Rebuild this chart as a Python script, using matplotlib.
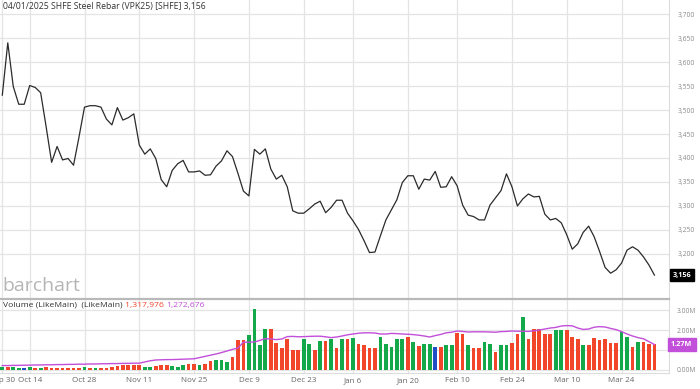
import matplotlib
matplotlib.use("Agg")
import matplotlib.pyplot as plt
import matplotlib.transforms as mtransforms
import numpy as np

plt.rcParams['font.family'] = ['Open Sans', 'DejaVu Sans']

# ---------------- data ----------------
price = [3531, 3640, 3549, 3512, 3512, 3551, 3547, 3536, 3465, 3391,
         3424, 3396, 3399, 3385, 3444, 3506, 3509, 3509, 3506, 3481,
         3469, 3505, 3479, 3484, 3492, 3427, 3408, 3419, 3399, 3355,
         3340, 3374, 3388, 3395, 3371, 3371, 3373, 3364, 3365, 3383,
         3394, 3415, 3403, 3368, 3331, 3321, 3418, 3408, 3419, 3377,
         3356, 3364, 3340, 3290, 3285, 3285, 3294, 3304, 3310, 3286,
         3297, 3312, 3312, 3285, 3269, 3251, 3228, 3203, 3204, 3238,
         3271, 3292, 3313, 3349, 3363, 3363, 3335, 3356, 3354, 3372,
         3339, 3340, 3361, 3342, 3302, 3281, 3278, 3271, 3271, 3302,
         3317, 3332, 3367, 3340, 3300, 3315, 3325, 3319, 3320, 3283,
         3271, 3274, 3265, 3240, 3210, 3221, 3245, 3258, 3236, 3205,
         3172, 3160, 3167, 3181, 3208, 3215, 3208, 3194, 3177, 3156]

volume_m = [0.17, 0.17, 0.17, 0.10, 0.08, 0.13, 0.10, 0.10, 0.13, 0.12,
            0.10, 0.10, 0.10, 0.10, 0.10, 0.13, 0.10, 0.10, 0.10, 0.12,
            0.15, 0.20, 0.24, 0.25, 0.25, 0.25, 0.15, 0.17, 0.20, 0.25,
            0.25, 0.22, 0.17, 0.27, 0.29, 0.30, 0.25, 0.32, 0.44, 0.50,
            0.50, 0.40, 0.67, 1.52, 1.52, 1.73, 3.05, 1.23, 2.03, 2.03,
            1.35, 1.10, 1.56, 1.02, 1.02, 1.57, 1.30, 1.02, 1.47, 1.47,
            1.57, 1.10, 1.56, 1.56, 1.61, 1.32, 1.27, 1.10, 1.10, 1.64,
            1.32, 1.15, 1.57, 1.57, 1.67, 1.40, 1.22, 1.32, 1.32, 1.15,
            1.17, 1.25, 1.25, 1.86, 1.81, 1.27, 1.12, 1.12, 1.39, 1.32,
            0.91, 1.24, 1.24, 1.37, 1.78, 2.67, 1.57, 2.03, 2.03, 1.81,
            1.81, 1.98, 1.99, 1.99, 1.64, 1.57, 1.27, 1.27, 1.61, 1.49,
            1.57, 1.35, 1.35, 1.89, 1.67, 1.15, 1.40, 1.40, 1.30, 1.318]

# g = up (green), r = down (red), b = unchanged (blue)
bar_dir = list("grggbgrgrr" "rrrrrgrgrr" "rrrrrrggrr" "rgggrrgrrg"
               "ggrrrggggr" "rrrrrggrgr" "grgrgrrrrg" "ggggrgrggb"
               "rggrrgrrgg" "rggrrgrrrr" "rggrrrgrrr" "rrrggrgrrr")

ma_m = [0.22, 0.22, 0.23, 0.23, 0.24, 0.24, 0.25, 0.25, 0.26, 0.26,
        0.27, 0.27, 0.28, 0.28, 0.29, 0.29, 0.30, 0.30, 0.31, 0.31,
        0.32, 0.32, 0.33, 0.33, 0.34, 0.34, 0.40, 0.46, 0.50, 0.51,
        0.52, 0.52, 0.53, 0.54, 0.55, 0.56, 0.62, 0.68, 0.74, 0.80,
        0.87, 0.95, 1.03, 1.10, 1.39, 1.39, 1.40, 1.48, 1.57, 1.55,
        1.52, 1.55, 1.67, 1.68, 1.66, 1.67, 1.68, 1.69, 1.69, 1.66,
        1.62, 1.65, 1.70, 1.76, 1.80, 1.84, 1.86, 1.86, 1.85, 1.80,
        1.80, 1.83, 1.82, 1.80, 1.79, 1.77, 1.74, 1.70, 1.65, 1.72,
        1.78, 1.86, 1.89, 1.95, 1.93, 1.90, 1.91, 1.91, 1.91, 1.90,
        1.89, 1.92, 1.93, 1.95, 1.94, 1.94, 1.93, 1.96, 2.00, 2.05,
        2.10, 2.13, 2.20, 2.22, 2.21, 2.10, 2.03, 2.05, 2.14, 2.17,
        2.15, 2.08, 2.02, 1.92, 1.80, 1.70, 1.62, 1.56, 1.42, 1.273]

tick_idx = [0, 5, 15, 25, 35, 45, 55, 64, 74, 83, 93, 103, 113]
tick_labels = ["Sep 30", "Oct 14", "Oct 28", "Nov 11", "Nov 25", "Dec 9", "Dec 23",
               "Jan 6", "Jan 20", "Feb 10", "Feb 24", "Mar 10", "Mar 24"]
price_ticks = [3200, 3250, 3300, 3350, 3400, 3450, 3500, 3550, 3600, 3650, 3700]
vol_ticks = [0, 1, 2, 3]
vol_tick_labels = ["0.00M", "1.00M", "2.00M", "3.00M"]

title = "04/01/2025 SHFE Steel Rebar (VPK25) [SHFE] 3,156"
last_price_text = "3,156"
last_ma_label = "1.27M"
last_vol_text = "1,317,976"
last_ma_text = "1,272,676"

# ---------------- figure ----------------
W, H = 700, 389
fig = plt.figure(figsize=(W / 100, H / 100), dpi=100)

def box(x0, y0, x1, y1):
    return [x0 / W, 1 - y1 / H, (x1 - x0) / W, (y1 - y0) / H]

GREEN = "#13a84a"
RED = "#f2462b"
BLUE = "#1f4fc4"
PURPLE = "#c24fd9"
GRID = "#e4e4e4"
TXT = "#8a8a8a"

ax = fig.add_axes(box(0, 0, 669, 298))
av = fig.add_axes(box(0, 299, 669, 373), sharex=ax)

x = np.arange(len(price))
xmin, xmax = -0.42, 121.66

ax.plot(x, price, color="#2b2b2b", lw=0.9, zorder=3)
ax.set_xlim(xmin, xmax)
ax.set_ylim(3108.3, 3729.2)
ax.set_yticks(price_ticks)
ax.set_yticklabels([f"{p:,}" for p in price_ticks])
ax.yaxis.tick_right()
ax.tick_params(axis="y", length=0, pad=6.5, labelsize=4.9, labelcolor=TXT)
ax.tick_params(axis="x", length=0, labelbottom=False)
ax.set_xticks(tick_idx)
ax.grid(True, color=GRID, lw=0.9)
ax.set_axisbelow(True)
for s in ["top", "left", "bottom"]:
    ax.spines[s].set_visible(False)
ax.spines["right"].set_color("#dcdcdc")

# last price label
tr = mtransforms.blended_transform_factory(ax.transAxes, ax.transData)
ax.text(1.006, price[-1], last_price_text, transform=tr, va="center", ha="left",
        color="white", fontsize=5.2, fontweight="bold",
        bbox=dict(boxstyle="square,pad=0.35", fc="black", ec="black"))

# volume
cmap = {"g": GREEN, "r": RED, "b": BLUE}
colors = [cmap[c] for c in bar_dir]
av.bar(x, volume_m, width=0.68, color=colors, zorder=2)
av.plot(x, ma_m, color=PURPLE, lw=1.0, zorder=3)
av.set_ylim(-0.152, 3.553)
av.set_yticks(vol_ticks)
av.set_yticklabels(vol_tick_labels)
av.yaxis.tick_right()
av.tick_params(axis="y", length=0, pad=5.5, labelsize=4.9, labelcolor=TXT)
av.set_xticks(tick_idx)
av.set_xticklabels(tick_labels)
av.tick_params(axis="x", length=0, pad=3, labelsize=5.8, labelcolor="#666666")
av.grid(True, color=GRID, lw=0.9)
av.set_axisbelow(True)
av.spines["left"].set_visible(False)
av.spines["top"].set_color("#b9b9b9")
av.spines["top"].set_linewidth(1.6)
av.spines["bottom"].set_color("#dcdcdc")
av.spines["right"].set_color("#dcdcdc")

trv = mtransforms.blended_transform_factory(av.transAxes, av.transData)
av.text(1.003, ma_m[-1], last_ma_label, transform=trv, va="center", ha="left",
        color="white", fontsize=5.2, fontweight="bold",
        bbox=dict(boxstyle="square,pad=0.45", fc=PURPLE, ec=PURPLE))

# texts
fig.text(3 / W, 1 - 7 / H, title, fontsize=6.2, color="#333333", va="center", ha="left")
fig.text(2 / W, 1 - 286 / H, "barchart", fontsize=14, color="#b5b5b5", va="center",
         ha="left")
t1 = fig.text(3 / W, 1 - 305 / H, "Volume (LikeMain)  (LikeMain) ", fontsize=6.1,
              color="#333333", va="center", ha="left")
fig.canvas.draw()
bb = t1.get_window_extent()
t2 = fig.text(bb.x1 / W, 1 - 305 / H, last_vol_text + " ", fontsize=6.1, color=RED,
              va="center", ha="left")
fig.canvas.draw()
bb2 = t2.get_window_extent()
fig.text(bb2.x1 / W, 1 - 305 / H, last_ma_text, fontsize=6.1, color=PURPLE,
         va="center", ha="left")

fig.savefig("out.png", dpi=100)
